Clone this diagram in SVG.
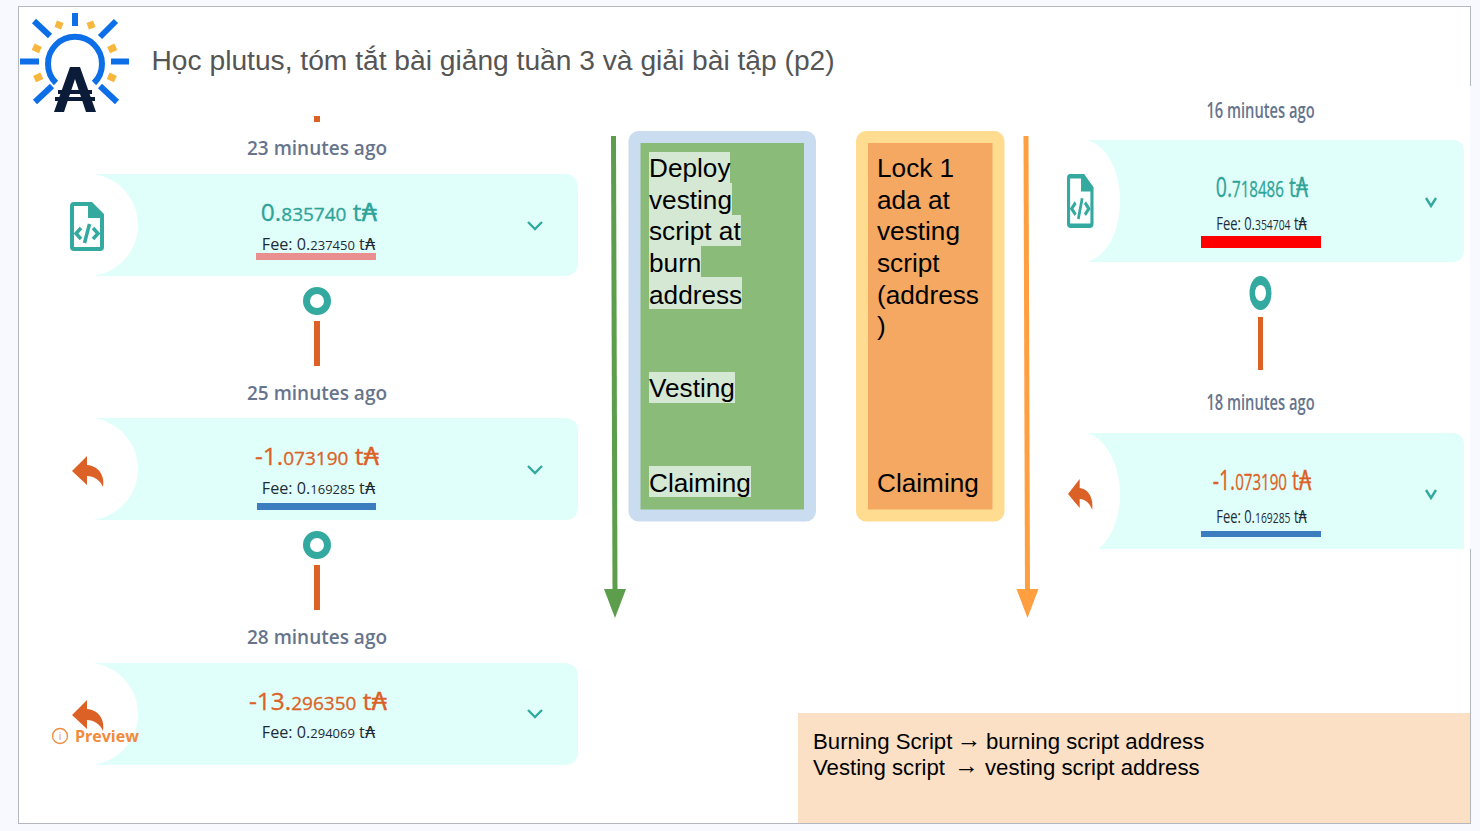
<svg xmlns="http://www.w3.org/2000/svg" width="1480" height="831" viewBox="0 0 1480 831">
<style>
.card{fill:#e0fffa}
.ago{font-family:"Open Sans",sans-serif;font-size:19px;font-weight:600;fill:#66748c;text-anchor:middle}
.amt{font-family:"Open Sans","DejaVu Sans",sans-serif;font-size:24.500px;font-weight:500;text-anchor:middle;stroke-width:.3px}
.amt tspan.s{font-size:19px}
.fee{font-family:"Open Sans","DejaVu Sans",sans-serif;font-size:16.200px;font-weight:500;fill:#1f2a37;text-anchor:middle}
.fee tspan.s{font-size:13px}
.teal{fill:#2fa398;stroke:#2fa398}
.org{fill:#dc6126}
.amt.org{stroke:#dc6126}
.big{font-family:"Liberation Sans",Arial,sans-serif;font-size:26.200px;fill:#000}
.note{font-family:"Liberation Sans",Arial,sans-serif;font-size:22.200px;fill:#000}
.hl{fill:#d5e8d4}
.chev{fill:none;stroke:#33a99f;stroke-width:2.400}
.ring{fill:#fff;stroke:#33a99f;stroke-width:7}
.stem{fill:#dc6126}
.arw{font-size:25px}
</style>
<defs>
<g id="doc"><path fill-rule="evenodd" fill="#33a99f" d="M4 0H22L34 12V45Q34 49 30 49H4Q0 49 0 45V4Q0 0 4 0ZM4 4V45H30V16H18V4Z"/><path d="M11 26l-5 5.500 5 5.500M23 26l5 5.500-5 5.500M19.500 22l-5 19" fill="none" stroke="#33a99f" stroke-width="3.500"/></g>
<path id="rep" class="org" d="M15 0V9C27 10 33 20 31 31C28 24 22 20 15 20V29L0 15Z"/>
</defs>
<rect width="1480" height="831" fill="#f8f9fe"/>
<rect x="18.500" y="6.500" width="1452" height="817" fill="#fff" stroke="#b4b8be"/>
<rect x="1470" y="86" width="2" height="463" fill="#f8f9fe"/>

<g id="logo">
<path d="M75 13V26M34 21L50 36M116 21L100 37M20 61.500H39M111 61.500H129M52 86L35 102M100 86L117 102" stroke="#0d6fe8" stroke-width="6" fill="none"/>
<path d="M56 83A27 27 0 1 1 94 83" fill="none" stroke="#0d6fe8" stroke-width="6"/>
<g fill="#f7b73f">
<rect x="-3.500" y="-3.500" width="7" height="7" transform="translate(59 25) rotate(20)"/>
<rect x="-3.500" y="-3.500" width="7" height="7" transform="translate(91 25) rotate(-20)"/>
<rect x="-4" y="-3" width="8" height="7" transform="translate(37 48) rotate(25)"/>
<rect x="-4" y="-3" width="8" height="7" transform="translate(112 48) rotate(-25)"/>
<rect x="-4" y="-3" width="8" height="7" transform="translate(38 77) rotate(-25)"/>
<rect x="-4" y="-3" width="8" height="7" transform="translate(112 77) rotate(25)"/>
</g>
<path d="M70 67H80L96 112H86L75 79L64 112H54ZM58 90H92V94H58ZM55 97H95V101H55Z" fill="#0b1c38"/>
</g>
<text id="title" x="151.500" y="70" font-family="Liberation Sans,Arial,sans-serif" font-size="28.200" fill="#555">Học plutus, tóm tắt bài giảng tuần 3 và giải bài tập (p2)</text>

<g id="connectors">
<rect class="stem" x="314" y="116" width="6" height="6"/>
<rect class="stem" x="314" y="321" width="6" height="45"/>
<rect class="stem" x="314" y="565" width="6" height="45"/>
<rect class="stem" x="1258" y="317" width="5" height="53"/>
<path d="M613.500 136L615 592" stroke="#5d9e4c" stroke-width="5" fill="none"/>
<path d="M604 589H626L615 618Z" fill="#5d9e4c"/>
<path d="M1026 136L1027.500 592" stroke="#ff9f3f" stroke-width="5" fill="none"/>
<path d="M1016.500 589H1038.500L1027.500 618Z" fill="#ff9f3f"/>
</g>

<g id="tx1">
<text class="ago" x="317" y="155">23 minutes ago</text>
<path class="card" d="M93 174H564Q578 174 578 188V262Q578 276 564 276H93C120 272 138 250 138 225S120 178 93 174Z"/>
<use href="#doc" x="70" y="202"/>
<text class="amt teal" x="319" y="221">0.<tspan class="s">835740</tspan> t₳</text>
<text class="fee" x="318.500" y="250">Fee: 0.<tspan class="s">237450</tspan> t₳</text>
<rect x="256" y="253" width="120" height="7" fill="#ea8f8f"/>
<path class="chev" d="M528 222l7 7 7-7"/>
</g>
<circle id="ring1" class="ring" cx="317" cy="301" r="10.500"/>
<g id="tx2">
<text class="ago" x="317" y="400">25 minutes ago</text>
<path class="card" d="M93 418H564Q578 418 578 432V506Q578 520 564 520H93C120 516 138 494 138 469S120 422 93 418Z"/>
<use href="#rep" x="72" y="456"/>
<text class="amt org" x="317" y="465">-1.<tspan class="s">073190</tspan> t₳</text>
<text class="fee" x="318.500" y="494">Fee: 0.<tspan class="s">169285</tspan> t₳</text>
<rect x="257" y="503" width="119" height="7" fill="#3b7dbe"/>
<path class="chev" d="M528 466l7 7 7-7"/>
</g>
<circle id="ring2" class="ring" cx="317" cy="545" r="10.500"/>
<g id="tx3">
<text class="ago" x="317" y="644">28 minutes ago</text>
<path class="card" d="M93 663H564Q578 663 578 677V751Q578 765 564 765H93C120 761 138 739 138 714S120 667 93 663Z"/>
<use href="#rep" x="72" y="700"/>
<circle cx="60" cy="736" r="7.500" fill="none" stroke="#f08a3c" stroke-width="1.300"/>
<text x="60" y="740" font-family="Open Sans,sans-serif" font-size="10" fill="#f08a3c" text-anchor="middle">i</text>
<text x="75" y="742" font-family="Open Sans,sans-serif" font-size="16" font-weight="700" fill="#f08a3c">Preview</text>
<text class="amt org" x="318" y="710">-13.<tspan class="s">296350</tspan> t₳</text>
<text class="fee" x="318.500" y="738">Fee: 0.<tspan class="s">294069</tspan> t₳</text>
<path class="chev" d="M528 710l7 7 7-7"/>
</g>

<g id="green-col">
<rect x="634.500" y="137" width="175.500" height="378.500" rx="4" fill="#8abb78" stroke="#c9dcf0" stroke-width="12"/>
<path class="hl" d="M649 152H730V183H649ZM649 183H732V215H649ZM649 215H741V246H649ZM649 246H701V277H649ZM649 277H742V309H649ZM649 372H735V403H649ZM649 466H751V497H649Z"/>
<text class="big" x="649" y="177">Deploy</text><text class="big" x="649" y="209">vesting</text><text class="big" x="649" y="240">script at</text><text class="big" x="649" y="272">burn</text><text class="big" x="649" y="304">address</text>
<text class="big" x="649" y="397">Vesting</text><text class="big" x="649" y="492">Claiming</text>
</g>
<g id="orange-col">
<rect x="862" y="137" width="136.500" height="378.500" rx="4" fill="#f4a862" stroke="#ffdc90" stroke-width="12"/>
<text class="big" x="877" y="177">Lock 1</text><text class="big" x="877" y="209">ada at</text><text class="big" x="877" y="240">vesting</text><text class="big" x="877" y="272">script</text><text class="big" x="877" y="304">(address</text><text class="big" x="877" y="335">)</text>
<text class="big" x="877" y="492">Claiming</text>
</g>

<g id="tx4">
<text class="ago" transform="translate(1260.500 118) scale(.7 1)" style="font-size:21px">16 minutes ago</text>
<path class="card" d="M1087 140H1452Q1464 140 1464 152V250Q1464 262 1452 262H1087C1108 256 1120 230 1120 201S1108 146 1087 140Z"/>
<use href="#doc" transform="translate(1067 174) scale(.78 1.100)"/>
<text class="amt teal" transform="translate(1262 197) scale(.72 1)" style="font-size:27px">0.<tspan class="s" style="font-size:21px">718486</tspan> t₳</text>
<text class="fee" transform="translate(1261.500 230) scale(.74 1)" style="font-size:17.500px">Fee: 0.<tspan class="s" style="font-size:14px">354704</tspan> t₳</text>
<rect x="1201" y="236" width="120" height="12" fill="#ff0000"/>
<path class="chev" d="M1426 198l5 8 5-8"/>
</g>
<g id="ring4"><ellipse cx="1260.500" cy="293" rx="11" ry="17" fill="#33a99f"/><ellipse cx="1260.500" cy="293" rx="5.500" ry="8" fill="#fff"/></g>
<g id="tx5">
<text class="ago" transform="translate(1260.500 410) scale(.7 1)" style="font-size:21px">18 minutes ago</text>
<path class="card" d="M1087 433H1452Q1464 433 1464 445V549H1098C1111 540 1120 518 1120 493S1108 439 1087 433Z"/>
<use href="#rep" transform="translate(1068 479) scale(.78 1)"/>
<text class="amt org" transform="translate(1262 490) scale(.72 1)" style="font-size:27px">-1.<tspan class="s" style="font-size:21px">073190</tspan> t₳</text>
<text class="fee" transform="translate(1261.500 523) scale(.74 1)" style="font-size:17.500px">Fee: 0.<tspan class="s" style="font-size:14px">169285</tspan> t₳</text>
<rect x="1201" y="531" width="120" height="6" fill="#3b7dbe"/>
<path class="chev" d="M1426 490l5 8 5-8"/>
</g>

<g id="note">
<rect x="798" y="713" width="672" height="110" fill="#fbe0c6"/>
<text class="note" x="813" y="749">Burning Script<tspan class="arw" x="956.500" dy="-1.500">→</tspan><tspan x="986" dy="1.500">burning script address</tspan></text>
<text class="note" x="813" y="775">Vesting script<tspan class="arw" x="954" dy="-1.500">→</tspan><tspan x="985" dy="1.500">vesting script address</tspan></text>
</g>
</svg>
